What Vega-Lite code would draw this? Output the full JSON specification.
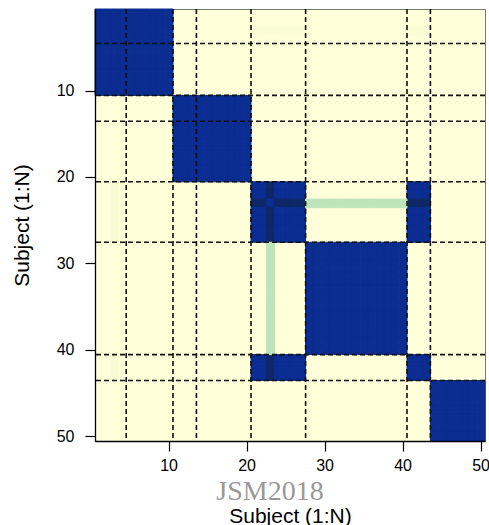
{
"$schema":"https://vega.github.io/schema/vega-lite/v6.json",
"width":390,"height":432,
"autosize":{"type":"none"},
"padding":{"left":95,"top":9,"right":4,"bottom":84},
"background":"white",
"config":{"view":{"fill":"#FFFFD9","stroke":"#777777","strokeWidth":1},"font":"Liberation Sans"},
"title":{"text":"JSM2018","orient":"bottom","anchor":"middle","font":"Liberation Serif","fontSize":28,"fontWeight":"normal","color":"#999999","dx":-20,"offset":-48},
"datasets":{
"bounds":[{"b":4},{"b":10},{"b":13},{"b":20},{"b":27},{"b":40},{"b":43}],
"cells":[
{"r":1,"c":1,"v":1},{"r":1,"c":2,"v":1},{"r":1,"c":3,"v":1},{"r":1,"c":4,"v":1},{"r":1,"c":5,"v":1},{"r":1,"c":6,"v":1},{"r":1,"c":7,"v":1},{"r":1,"c":8,"v":1},{"r":1,"c":9,"v":1},{"r":1,"c":10,"v":1},
{"r":2,"c":1,"v":1},{"r":2,"c":2,"v":1},{"r":2,"c":3,"v":1},{"r":2,"c":4,"v":1},{"r":2,"c":5,"v":1},{"r":2,"c":6,"v":1},{"r":2,"c":7,"v":1},{"r":2,"c":8,"v":1},{"r":2,"c":9,"v":1},{"r":2,"c":10,"v":1},
{"r":3,"c":1,"v":1},{"r":3,"c":2,"v":1},{"r":3,"c":3,"v":1},{"r":3,"c":4,"v":1},{"r":3,"c":5,"v":1},{"r":3,"c":6,"v":1},{"r":3,"c":7,"v":1},{"r":3,"c":8,"v":1},{"r":3,"c":9,"v":1},{"r":3,"c":10,"v":1},
{"r":4,"c":1,"v":1},{"r":4,"c":2,"v":1},{"r":4,"c":3,"v":1},{"r":4,"c":4,"v":1},{"r":4,"c":5,"v":1},{"r":4,"c":6,"v":1},{"r":4,"c":7,"v":1},{"r":4,"c":8,"v":1},{"r":4,"c":9,"v":1},{"r":4,"c":10,"v":1},
{"r":5,"c":1,"v":1},{"r":5,"c":2,"v":1},{"r":5,"c":3,"v":1},{"r":5,"c":4,"v":1},{"r":5,"c":5,"v":1},{"r":5,"c":6,"v":1},{"r":5,"c":7,"v":1},{"r":5,"c":8,"v":1},{"r":5,"c":9,"v":1},{"r":5,"c":10,"v":1},
{"r":6,"c":1,"v":1},{"r":6,"c":2,"v":1},{"r":6,"c":3,"v":1},{"r":6,"c":4,"v":1},{"r":6,"c":5,"v":1},{"r":6,"c":6,"v":1},{"r":6,"c":7,"v":1},{"r":6,"c":8,"v":1},{"r":6,"c":9,"v":1},{"r":6,"c":10,"v":1},
{"r":7,"c":1,"v":1},{"r":7,"c":2,"v":1},{"r":7,"c":3,"v":1},{"r":7,"c":4,"v":1},{"r":7,"c":5,"v":1},{"r":7,"c":6,"v":1},{"r":7,"c":7,"v":1},{"r":7,"c":8,"v":1},{"r":7,"c":9,"v":1},{"r":7,"c":10,"v":1},
{"r":8,"c":1,"v":1},{"r":8,"c":2,"v":1},{"r":8,"c":3,"v":1},{"r":8,"c":4,"v":1},{"r":8,"c":5,"v":1},{"r":8,"c":6,"v":1},{"r":8,"c":7,"v":1},{"r":8,"c":8,"v":1},{"r":8,"c":9,"v":1},{"r":8,"c":10,"v":1},
{"r":9,"c":1,"v":1},{"r":9,"c":2,"v":1},{"r":9,"c":3,"v":1},{"r":9,"c":4,"v":1},{"r":9,"c":5,"v":1},{"r":9,"c":6,"v":1},{"r":9,"c":7,"v":1},{"r":9,"c":8,"v":1},{"r":9,"c":9,"v":1},{"r":9,"c":10,"v":1},
{"r":10,"c":1,"v":1},{"r":10,"c":2,"v":1},{"r":10,"c":3,"v":1},{"r":10,"c":4,"v":1},{"r":10,"c":5,"v":1},{"r":10,"c":6,"v":1},{"r":10,"c":7,"v":1},{"r":10,"c":8,"v":1},{"r":10,"c":9,"v":1},{"r":10,"c":10,"v":1},
{"r":11,"c":11,"v":1},{"r":11,"c":12,"v":1},{"r":11,"c":13,"v":1},{"r":11,"c":14,"v":1},{"r":11,"c":15,"v":1},{"r":11,"c":16,"v":1},{"r":11,"c":17,"v":1},{"r":11,"c":18,"v":1},{"r":11,"c":19,"v":1},{"r":11,"c":20,"v":1},
{"r":12,"c":11,"v":1},{"r":12,"c":12,"v":1},{"r":12,"c":13,"v":1},{"r":12,"c":14,"v":1},{"r":12,"c":15,"v":1},{"r":12,"c":16,"v":1},{"r":12,"c":17,"v":1},{"r":12,"c":18,"v":1},{"r":12,"c":19,"v":1},{"r":12,"c":20,"v":1},
{"r":13,"c":11,"v":1},{"r":13,"c":12,"v":1},{"r":13,"c":13,"v":1},{"r":13,"c":14,"v":1},{"r":13,"c":15,"v":1},{"r":13,"c":16,"v":1},{"r":13,"c":17,"v":1},{"r":13,"c":18,"v":1},{"r":13,"c":19,"v":1},{"r":13,"c":20,"v":1},
{"r":14,"c":11,"v":1},{"r":14,"c":12,"v":1},{"r":14,"c":13,"v":1},{"r":14,"c":14,"v":1},{"r":14,"c":15,"v":1},{"r":14,"c":16,"v":1},{"r":14,"c":17,"v":1},{"r":14,"c":18,"v":1},{"r":14,"c":19,"v":1},{"r":14,"c":20,"v":1},
{"r":15,"c":11,"v":1},{"r":15,"c":12,"v":1},{"r":15,"c":13,"v":1},{"r":15,"c":14,"v":1},{"r":15,"c":15,"v":1},{"r":15,"c":16,"v":1},{"r":15,"c":17,"v":1},{"r":15,"c":18,"v":1},{"r":15,"c":19,"v":1},{"r":15,"c":20,"v":1},
{"r":16,"c":11,"v":1},{"r":16,"c":12,"v":1},{"r":16,"c":13,"v":1},{"r":16,"c":14,"v":1},{"r":16,"c":15,"v":1},{"r":16,"c":16,"v":1},{"r":16,"c":17,"v":1},{"r":16,"c":18,"v":1},{"r":16,"c":19,"v":1},{"r":16,"c":20,"v":1},
{"r":17,"c":11,"v":1},{"r":17,"c":12,"v":1},{"r":17,"c":13,"v":1},{"r":17,"c":14,"v":1},{"r":17,"c":15,"v":1},{"r":17,"c":16,"v":1},{"r":17,"c":17,"v":1},{"r":17,"c":18,"v":1},{"r":17,"c":19,"v":1},{"r":17,"c":20,"v":1},
{"r":18,"c":11,"v":1},{"r":18,"c":12,"v":1},{"r":18,"c":13,"v":1},{"r":18,"c":14,"v":1},{"r":18,"c":15,"v":1},{"r":18,"c":16,"v":1},{"r":18,"c":17,"v":1},{"r":18,"c":18,"v":1},{"r":18,"c":19,"v":1},{"r":18,"c":20,"v":1},
{"r":19,"c":11,"v":1},{"r":19,"c":12,"v":1},{"r":19,"c":13,"v":1},{"r":19,"c":14,"v":1},{"r":19,"c":15,"v":1},{"r":19,"c":16,"v":1},{"r":19,"c":17,"v":1},{"r":19,"c":18,"v":1},{"r":19,"c":19,"v":1},{"r":19,"c":20,"v":1},
{"r":20,"c":11,"v":1},{"r":20,"c":12,"v":1},{"r":20,"c":13,"v":1},{"r":20,"c":14,"v":1},{"r":20,"c":15,"v":1},{"r":20,"c":16,"v":1},{"r":20,"c":17,"v":1},{"r":20,"c":18,"v":1},{"r":20,"c":19,"v":1},{"r":20,"c":20,"v":1},
{"r":21,"c":21,"v":1},{"r":21,"c":22,"v":1},{"r":21,"c":23,"v":0.7},{"r":21,"c":24,"v":1},{"r":21,"c":25,"v":1},{"r":21,"c":26,"v":1},{"r":21,"c":27,"v":1},{"r":21,"c":41,"v":1},{"r":21,"c":42,"v":1},{"r":21,"c":43,"v":1},
{"r":22,"c":21,"v":1},{"r":22,"c":22,"v":1},{"r":22,"c":23,"v":0.7},{"r":22,"c":24,"v":1},{"r":22,"c":25,"v":1},{"r":22,"c":26,"v":1},{"r":22,"c":27,"v":1},{"r":22,"c":41,"v":1},{"r":22,"c":42,"v":1},{"r":22,"c":43,"v":1},
{"r":23,"c":21,"v":0.7},{"r":23,"c":22,"v":0.7},{"r":23,"c":23,"v":1},{"r":23,"c":24,"v":0.7},{"r":23,"c":25,"v":0.7},{"r":23,"c":26,"v":0.7},{"r":23,"c":27,"v":0.7},{"r":23,"c":41,"v":0.7},{"r":23,"c":42,"v":0.7},{"r":23,"c":43,"v":0.7},
{"r":24,"c":21,"v":1},{"r":24,"c":22,"v":1},{"r":24,"c":23,"v":0.7},{"r":24,"c":24,"v":1},{"r":24,"c":25,"v":1},{"r":24,"c":26,"v":1},{"r":24,"c":27,"v":1},{"r":24,"c":41,"v":1},{"r":24,"c":42,"v":1},{"r":24,"c":43,"v":1},
{"r":25,"c":21,"v":1},{"r":25,"c":22,"v":1},{"r":25,"c":23,"v":0.7},{"r":25,"c":24,"v":1},{"r":25,"c":25,"v":1},{"r":25,"c":26,"v":1},{"r":25,"c":27,"v":1},{"r":25,"c":41,"v":1},{"r":25,"c":42,"v":1},{"r":25,"c":43,"v":1},
{"r":26,"c":21,"v":1},{"r":26,"c":22,"v":1},{"r":26,"c":23,"v":0.7},{"r":26,"c":24,"v":1},{"r":26,"c":25,"v":1},{"r":26,"c":26,"v":1},{"r":26,"c":27,"v":1},{"r":26,"c":41,"v":1},{"r":26,"c":42,"v":1},{"r":26,"c":43,"v":1},
{"r":27,"c":21,"v":1},{"r":27,"c":22,"v":1},{"r":27,"c":23,"v":0.7},{"r":27,"c":24,"v":1},{"r":27,"c":25,"v":1},{"r":27,"c":26,"v":1},{"r":27,"c":27,"v":1},{"r":27,"c":41,"v":1},{"r":27,"c":42,"v":1},{"r":27,"c":43,"v":1},
{"r":41,"c":21,"v":1},{"r":41,"c":22,"v":1},{"r":41,"c":23,"v":0.7},{"r":41,"c":24,"v":1},{"r":41,"c":25,"v":1},{"r":41,"c":26,"v":1},{"r":41,"c":27,"v":1},{"r":41,"c":41,"v":1},{"r":41,"c":42,"v":1},{"r":41,"c":43,"v":1},
{"r":42,"c":21,"v":1},{"r":42,"c":22,"v":1},{"r":42,"c":23,"v":0.7},{"r":42,"c":24,"v":1},{"r":42,"c":25,"v":1},{"r":42,"c":26,"v":1},{"r":42,"c":27,"v":1},{"r":42,"c":41,"v":1},{"r":42,"c":42,"v":1},{"r":42,"c":43,"v":1},
{"r":43,"c":21,"v":1},{"r":43,"c":22,"v":1},{"r":43,"c":23,"v":0.7},{"r":43,"c":24,"v":1},{"r":43,"c":25,"v":1},{"r":43,"c":26,"v":1},{"r":43,"c":27,"v":1},{"r":43,"c":41,"v":1},{"r":43,"c":42,"v":1},{"r":43,"c":43,"v":1},
{"r":28,"c":28,"v":1},{"r":28,"c":29,"v":1},{"r":28,"c":30,"v":1},{"r":28,"c":31,"v":1},{"r":28,"c":32,"v":1},{"r":28,"c":33,"v":1},{"r":28,"c":34,"v":1},{"r":28,"c":35,"v":1},{"r":28,"c":36,"v":1},{"r":28,"c":37,"v":1},{"r":28,"c":38,"v":1},{"r":28,"c":39,"v":1},{"r":28,"c":40,"v":1},
{"r":29,"c":28,"v":1},{"r":29,"c":29,"v":1},{"r":29,"c":30,"v":1},{"r":29,"c":31,"v":1},{"r":29,"c":32,"v":1},{"r":29,"c":33,"v":1},{"r":29,"c":34,"v":1},{"r":29,"c":35,"v":1},{"r":29,"c":36,"v":1},{"r":29,"c":37,"v":1},{"r":29,"c":38,"v":1},{"r":29,"c":39,"v":1},{"r":29,"c":40,"v":1},
{"r":30,"c":28,"v":1},{"r":30,"c":29,"v":1},{"r":30,"c":30,"v":1},{"r":30,"c":31,"v":1},{"r":30,"c":32,"v":1},{"r":30,"c":33,"v":1},{"r":30,"c":34,"v":1},{"r":30,"c":35,"v":1},{"r":30,"c":36,"v":1},{"r":30,"c":37,"v":1},{"r":30,"c":38,"v":1},{"r":30,"c":39,"v":1},{"r":30,"c":40,"v":1},
{"r":31,"c":28,"v":1},{"r":31,"c":29,"v":1},{"r":31,"c":30,"v":1},{"r":31,"c":31,"v":1},{"r":31,"c":32,"v":1},{"r":31,"c":33,"v":1},{"r":31,"c":34,"v":1},{"r":31,"c":35,"v":1},{"r":31,"c":36,"v":1},{"r":31,"c":37,"v":1},{"r":31,"c":38,"v":1},{"r":31,"c":39,"v":1},{"r":31,"c":40,"v":1},
{"r":32,"c":28,"v":1},{"r":32,"c":29,"v":1},{"r":32,"c":30,"v":1},{"r":32,"c":31,"v":1},{"r":32,"c":32,"v":1},{"r":32,"c":33,"v":1},{"r":32,"c":34,"v":1},{"r":32,"c":35,"v":1},{"r":32,"c":36,"v":1},{"r":32,"c":37,"v":1},{"r":32,"c":38,"v":1},{"r":32,"c":39,"v":1},{"r":32,"c":40,"v":1},
{"r":33,"c":28,"v":1},{"r":33,"c":29,"v":1},{"r":33,"c":30,"v":1},{"r":33,"c":31,"v":1},{"r":33,"c":32,"v":1},{"r":33,"c":33,"v":1},{"r":33,"c":34,"v":1},{"r":33,"c":35,"v":1},{"r":33,"c":36,"v":1},{"r":33,"c":37,"v":1},{"r":33,"c":38,"v":1},{"r":33,"c":39,"v":1},{"r":33,"c":40,"v":1},
{"r":34,"c":28,"v":1},{"r":34,"c":29,"v":1},{"r":34,"c":30,"v":1},{"r":34,"c":31,"v":1},{"r":34,"c":32,"v":1},{"r":34,"c":33,"v":1},{"r":34,"c":34,"v":1},{"r":34,"c":35,"v":1},{"r":34,"c":36,"v":1},{"r":34,"c":37,"v":1},{"r":34,"c":38,"v":1},{"r":34,"c":39,"v":1},{"r":34,"c":40,"v":1},
{"r":35,"c":28,"v":1},{"r":35,"c":29,"v":1},{"r":35,"c":30,"v":1},{"r":35,"c":31,"v":1},{"r":35,"c":32,"v":1},{"r":35,"c":33,"v":1},{"r":35,"c":34,"v":1},{"r":35,"c":35,"v":1},{"r":35,"c":36,"v":1},{"r":35,"c":37,"v":1},{"r":35,"c":38,"v":1},{"r":35,"c":39,"v":1},{"r":35,"c":40,"v":1},
{"r":36,"c":28,"v":1},{"r":36,"c":29,"v":1},{"r":36,"c":30,"v":1},{"r":36,"c":31,"v":1},{"r":36,"c":32,"v":1},{"r":36,"c":33,"v":1},{"r":36,"c":34,"v":1},{"r":36,"c":35,"v":1},{"r":36,"c":36,"v":1},{"r":36,"c":37,"v":1},{"r":36,"c":38,"v":1},{"r":36,"c":39,"v":1},{"r":36,"c":40,"v":1},
{"r":37,"c":28,"v":1},{"r":37,"c":29,"v":1},{"r":37,"c":30,"v":1},{"r":37,"c":31,"v":1},{"r":37,"c":32,"v":1},{"r":37,"c":33,"v":1},{"r":37,"c":34,"v":1},{"r":37,"c":35,"v":1},{"r":37,"c":36,"v":1},{"r":37,"c":37,"v":1},{"r":37,"c":38,"v":1},{"r":37,"c":39,"v":1},{"r":37,"c":40,"v":1},
{"r":38,"c":28,"v":1},{"r":38,"c":29,"v":1},{"r":38,"c":30,"v":1},{"r":38,"c":31,"v":1},{"r":38,"c":32,"v":1},{"r":38,"c":33,"v":1},{"r":38,"c":34,"v":1},{"r":38,"c":35,"v":1},{"r":38,"c":36,"v":1},{"r":38,"c":37,"v":1},{"r":38,"c":38,"v":1},{"r":38,"c":39,"v":1},{"r":38,"c":40,"v":1},
{"r":39,"c":28,"v":1},{"r":39,"c":29,"v":1},{"r":39,"c":30,"v":1},{"r":39,"c":31,"v":1},{"r":39,"c":32,"v":1},{"r":39,"c":33,"v":1},{"r":39,"c":34,"v":1},{"r":39,"c":35,"v":1},{"r":39,"c":36,"v":1},{"r":39,"c":37,"v":1},{"r":39,"c":38,"v":1},{"r":39,"c":39,"v":1},{"r":39,"c":40,"v":1},
{"r":40,"c":28,"v":1},{"r":40,"c":29,"v":1},{"r":40,"c":30,"v":1},{"r":40,"c":31,"v":1},{"r":40,"c":32,"v":1},{"r":40,"c":33,"v":1},{"r":40,"c":34,"v":1},{"r":40,"c":35,"v":1},{"r":40,"c":36,"v":1},{"r":40,"c":37,"v":1},{"r":40,"c":38,"v":1},{"r":40,"c":39,"v":1},{"r":40,"c":40,"v":1},
{"r":44,"c":44,"v":1},{"r":44,"c":45,"v":1},{"r":44,"c":46,"v":1},{"r":44,"c":47,"v":1},{"r":44,"c":48,"v":1},{"r":44,"c":49,"v":1},{"r":44,"c":50,"v":1},
{"r":45,"c":44,"v":1},{"r":45,"c":45,"v":1},{"r":45,"c":46,"v":1},{"r":45,"c":47,"v":1},{"r":45,"c":48,"v":1},{"r":45,"c":49,"v":1},{"r":45,"c":50,"v":1},
{"r":46,"c":44,"v":1},{"r":46,"c":45,"v":1},{"r":46,"c":46,"v":1},{"r":46,"c":47,"v":1},{"r":46,"c":48,"v":1},{"r":46,"c":49,"v":1},{"r":46,"c":50,"v":1},
{"r":47,"c":44,"v":1},{"r":47,"c":45,"v":1},{"r":47,"c":46,"v":1},{"r":47,"c":47,"v":1},{"r":47,"c":48,"v":1},{"r":47,"c":49,"v":1},{"r":47,"c":50,"v":1},
{"r":48,"c":44,"v":1},{"r":48,"c":45,"v":1},{"r":48,"c":46,"v":1},{"r":48,"c":47,"v":1},{"r":48,"c":48,"v":1},{"r":48,"c":49,"v":1},{"r":48,"c":50,"v":1},
{"r":49,"c":44,"v":1},{"r":49,"c":45,"v":1},{"r":49,"c":46,"v":1},{"r":49,"c":47,"v":1},{"r":49,"c":48,"v":1},{"r":49,"c":49,"v":1},{"r":49,"c":50,"v":1},
{"r":50,"c":44,"v":1},{"r":50,"c":45,"v":1},{"r":50,"c":46,"v":1},{"r":50,"c":47,"v":1},{"r":50,"c":48,"v":1},{"r":50,"c":49,"v":1},{"r":50,"c":50,"v":1},
{"r":23,"c":28,"v":0.3},{"r":23,"c":29,"v":0.3},{"r":23,"c":30,"v":0.3},{"r":23,"c":31,"v":0.3},{"r":23,"c":32,"v":0.3},{"r":23,"c":33,"v":0.3},{"r":23,"c":34,"v":0.3},{"r":23,"c":35,"v":0.3},{"r":23,"c":36,"v":0.3},{"r":23,"c":37,"v":0.3},{"r":23,"c":38,"v":0.3},{"r":23,"c":39,"v":0.3},{"r":23,"c":40,"v":0.3},
{"r":28,"c":23,"v":0.3},{"r":29,"c":23,"v":0.3},{"r":30,"c":23,"v":0.3},{"r":31,"c":23,"v":0.3},{"r":32,"c":23,"v":0.3},{"r":33,"c":23,"v":0.3},{"r":34,"c":23,"v":0.3},{"r":35,"c":23,"v":0.3},{"r":36,"c":23,"v":0.3},{"r":37,"c":23,"v":0.3},{"r":38,"c":23,"v":0.3},{"r":39,"c":23,"v":0.3},{"r":40,"c":23,"v":0.3},
{"r":3,"c":21,"v":0.03},{"r":3,"c":22,"v":0.03},{"r":3,"c":23,"v":0.03},{"r":3,"c":24,"v":0.03},{"r":3,"c":25,"v":0.03},{"r":3,"c":26,"v":0.03},{"r":3,"c":27,"v":0.03},{"r":3,"c":41,"v":0.03},{"r":3,"c":42,"v":0.03},{"r":3,"c":43,"v":0.03},
{"r":21,"c":3,"v":0.03},{"r":22,"c":3,"v":0.03},{"r":23,"c":3,"v":0.03},{"r":24,"c":3,"v":0.03},{"r":25,"c":3,"v":0.03},{"r":26,"c":3,"v":0.03},{"r":27,"c":3,"v":0.03},{"r":41,"c":3,"v":0.03},{"r":42,"c":3,"v":0.03},{"r":43,"c":3,"v":0.03}
]},
"layer":[
{"data":{"name":"cells"},"mark":{"type":"rect","strokeWidth":1},
"encoding":{
"x":{"field":"c","type":"ordinal","title":"Subject (1:N)","scale":{"domain":[1,2,3,4,5,6,7,8,9,10,11,12,13,14,15,16,17,18,19,20,21,22,23,24,25,26,27,28,29,30,31,32,33,34,35,36,37,38,39,40,41,42,43,44,45,46,47,48,49,50],"paddingInner":0,"paddingOuter":0},
"axis":{"values":[10,20,30,40,50],"labelAngle":0,"labelFontSize":16,"labelColor":"black","tickSize":10,"tickWidth":1.2,"tickColor":"black","labelPadding":6,"domainColor":"black","domainWidth":1.3,"titleFontSize":21,"titleFontWeight":"normal","titleColor":"black","titlePadding":32,"grid":false}},
"y":{"field":"r","type":"ordinal","title":"Subject (1:N)","scale":{"domain":[1,2,3,4,5,6,7,8,9,10,11,12,13,14,15,16,17,18,19,20,21,22,23,24,25,26,27,28,29,30,31,32,33,34,35,36,37,38,39,40,41,42,43,44,45,46,47,48,49,50],"paddingInner":0,"paddingOuter":0},
"axis":{"values":[10,20,30,40,50],"labelFontSize":16,"labelColor":"black","tickSize":10,"tickWidth":1.2,"tickColor":"black","labelPadding":11,"domainColor":"black","domainWidth":1.3,"titleFontSize":21,"titleFontWeight":"normal","titleColor":"black","titlePadding":24,"grid":false}},
"color":{"field":"v","type":"quantitative","scale":{"domain":[0,0.3,0.7,1],"range":["#FFFFD9","#BEE5B9","#0D2767","#0B2D91"]},"legend":null},
"stroke":{"field":"v","type":"quantitative","scale":{"domain":[0,0.3,0.7,1],"range":["#FFFFD9","#BEE5B9","#0D2767","#0B2D91"]},"legend":null}}},
{"data":{"name":"bounds"},"mark":{"type":"rule","color":"#111111","strokeWidth":1.6,"strokeDash":[5,3]},
"encoding":{"x":{"field":"b","type":"ordinal","bandPosition":1,"title":"Subject (1:N)",
"axis":{"values":[10,20,30,40,50],"labelAngle":0,"labelFontSize":16,"labelColor":"black","tickSize":10,"tickWidth":1.2,"tickColor":"black","labelPadding":6,"domainColor":"black","domainWidth":1.3,"titleFontSize":21,"titleFontWeight":"normal","titleColor":"black","titlePadding":32,"grid":false}}}},
{"data":{"name":"bounds"},"mark":{"type":"rule","color":"#111111","strokeWidth":1.6,"strokeDash":[5,3]},
"encoding":{"y":{"field":"b","type":"ordinal","bandPosition":1,"title":"Subject (1:N)",
"axis":{"values":[10,20,30,40,50],"labelFontSize":16,"labelColor":"black","tickSize":10,"tickWidth":1.2,"tickColor":"black","labelPadding":11,"domainColor":"black","domainWidth":1.3,"titleFontSize":21,"titleFontWeight":"normal","titleColor":"black","titlePadding":24,"grid":false}}}}
]
}
